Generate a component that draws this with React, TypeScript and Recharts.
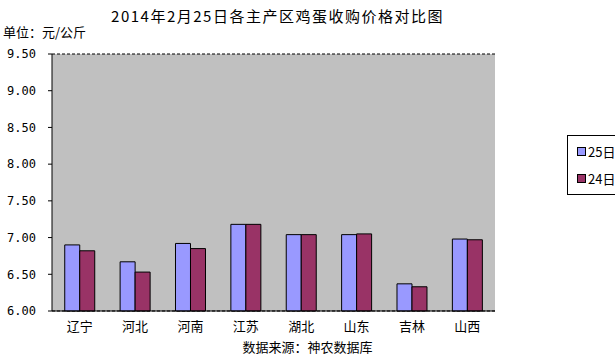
import React from 'react';
import { BarChart, Bar, XAxis, YAxis, CartesianGrid, Legend } from 'recharts';

const provinces = ['辽宁', '河北', '河南', '江苏', '湖北', '山东', '吉林', '山西'];
const price25 = [6.9, 6.67, 6.92, 7.18, 7.04, 7.04, 6.37, 6.98];
const price24 = [6.82, 6.53, 6.85, 7.18, 7.04, 7.05, 6.33, 6.97];
const yTicks = [6.0, 6.5, 7.0, 7.5, 8.0, 8.5, 9.0, 9.5];

const data = provinces.map((name, i) => ({ name, d25: price25[i], d24: price24[i] }));

const BLUE = '#9999FF';
const MAROON = '#993366';
const CJK = '"Noto Sans CJK SC", sans-serif';

const LegendBox = () => (
  <div
    style={{
      border: '1px solid #000',
      background: '#fff',
      width: 60,
      height: 60,
      boxSizing: 'border-box',
      fontFamily: CJK,
      fontSize: 13,
      color: '#000',
      padding: '6px 0 0 9px',
    }}
  >
    {[
      { label: '25日', color: BLUE },
      { label: '24日', color: MAROON },
    ].map((it, i) => (
      <div key={it.label} style={{ display: 'flex', alignItems: 'center', height: 18, marginTop: i ? 9 : 0 }}>
        <span style={{ width: 7, height: 7, background: it.color, border: '1px solid #000', marginRight: 2 }} />
        <span>{it.label}</span>
      </div>
    ))}
  </div>
);

const App: React.FC = () => {
  return (
    <div style={{ position: 'absolute', left: 0, top: 0, width: 615, height: 356, background: '#fff' }}>
      <div
        style={{
          position: 'absolute', left: -30, width: 615, top: 5, textAlign: 'center',
          fontFamily: CJK, fontSize: 15, color: '#000', letterSpacing: 1.5,
        }}
      >
        2014年2月25日各主产区鸡蛋收购价格对比图
      </div>
      <div style={{ position: 'absolute', left: 3, top: 22, fontFamily: CJK, fontSize: 13, color: '#000' }}>
        单位：元/公斤
      </div>
      <div
        style={{
          position: 'absolute', left: 0, width: 615, top: 340, textAlign: 'center',
          fontFamily: CJK, fontSize: 13, lineHeight: '14px', color: '#000',
        }}
      >
        数据来源：神农数据库
      </div>
      <BarChart
        width={615}
        height={356}
        data={data}
        margin={{ top: 54, right: 60, bottom: 15, left: 0 }}
        barCategoryGap="23%"
        barGap={0}
        style={{ position: 'absolute', left: 0, top: 0 }}
      >
        <CartesianGrid vertical={false} stroke="#000" strokeDasharray="3 2" fill="#C0C0C0" fillOpacity={1} />
        <XAxis
          dataKey="name"
          height={30}
          axisLine={{ stroke: '#000' }}
          tickLine={false}
          tick={{ fill: '#000', fontSize: 13, fontFamily: CJK }}
          tickMargin={5}
        />
        <YAxis
          yAxisId="left"
          domain={[6, 9.5]}
          ticks={yTicks}
          width={52}
          axisLine={{ stroke: '#000' }}
          tickLine={{ stroke: '#000' }}
          tickSize={4}
          tickFormatter={(v: number) => v.toFixed(2)}
          tick={{ fill: '#000', fontSize: 12, fontFamily: '"DejaVu Sans Mono", monospace', dx: -10 }}
        />
        <YAxis
          yAxisId="right"
          orientation="right"
          domain={[6, 9.5]}
          ticks={yTicks}
          width={0}
          tick={false}
          tickLine={false}
          axisLine={{ stroke: '#808080', strokeDasharray: '2 2' }}
        />
        <Legend
          layout="vertical"
          verticalAlign="top"
          align="right"
          content={() => <LegendBox />}
          wrapperStyle={{ position: 'absolute', left: 567, top: 135, width: 60 }}
        />
        <Bar yAxisId="left" dataKey="d25" name="25日" fill={BLUE} stroke="#000" strokeWidth={1} isAnimationActive={false} />
        <Bar yAxisId="left" dataKey="d24" name="24日" fill={MAROON} stroke="#000" strokeWidth={1} isAnimationActive={false} />
      </BarChart>
    </div>
  );
};

export default App;
